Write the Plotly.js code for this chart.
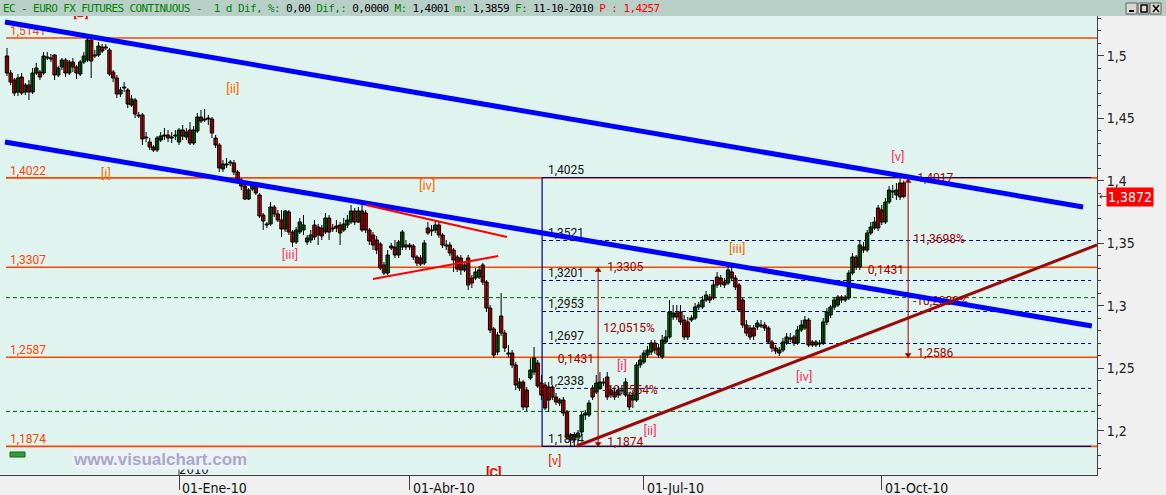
<!DOCTYPE html>
<html><head><meta charset="utf-8">
<script src="https://cdn.plot.ly/plotly-3.0.1.min.js"></script>
<style>
html,body{margin:0;padding:0;background:#f0f0f0;overflow:hidden}
#chart{width:1166px;height:495px}
.gtitle{letter-spacing:-0.6px}
</style></head><body><div id="chart"></div>
<script>
// ---------------- DATA ----------------
const candleOpen = [
1.4997,1.4861,1.4805,1.4709,1.4829,1.4709,1.4765,1.4709,1.4861,1.4869,
1.4861,1.4989,1.4981,1.5005,1.4845,1.4909,1.4965,1.4861,1.4949,1.4909,
1.4853,1.4949,1.4965,1.5125,1.4997,1.5005,1.5069,1.5061,1.5045,1.4869,
1.4821,1.4693,1.4749,1.4725,1.4605,1.4645,1.4525,1.4525,1.4349,1.4309,
1.4269,1.4245,1.4325,1.4365,1.4365,1.4341,1.4357,1.4309,1.4405,1.4349,
1.4405,1.4301,1.4397,1.4509,1.4493,1.4493,1.4493,1.4341,1.4285,1.4093,
1.4133,1.4141,1.4141,1.4069,1.4005,1.3957,1.3853,1.3933,1.3965,1.3885,
1.3725,1.3645,1.3653,1.3789,1.3733,1.3685,1.3613,1.3749,1.3589,1.3509,
1.3589,1.3605,1.3509,1.3525,1.3645,1.3629,1.3621,1.3589,1.3701,1.3621,
1.3637,1.3645,1.3605,1.3645,1.3669,1.3757,1.3669,1.3757,1.3741,1.3605,
1.3565,1.3525,1.3493,1.3325,1.3261,1.3477,1.3469,1.3405,1.3469,1.3485,
1.3485,1.3477,1.3389,1.3381,1.3341,1.3621,1.3605,1.3605,1.3645,1.3565,
1.3485,1.3485,1.3445,1.3389,1.3381,1.3285,1.3381,1.3221,1.3221,1.3229,
1.3325,1.3189,1.2981,1.2813,1.2629,1.2917,1.2781,1.2621,1.2621,1.2525,
1.2341,1.2389,1.2325,1.2421,1.2469,1.2541,1.2381,1.2365,1.2349,1.2349,
1.2269,1.2221,1.2245,1.2149,1.1965,1.1925,1.1949,1.1989,1.2125,1.2125,
1.2341,1.2309,1.2341,1.2381,1.2429,1.2325,1.2309,1.2285,1.2325,1.2285,
1.2285,1.2245,1.2245,1.2525,1.2549,1.2605,1.2629,1.2701,1.2661,1.2589,
1.2709,1.2749,1.2909,1.2941,1.2949,1.2885,1.2869,1.2885,1.2901,1.2989,
1.2989,1.3045,1.3069,1.3061,1.3229,1.3221,1.3189,1.3181,1.3269,1.3221,
1.3165,1.3045,1.2845,1.2821,1.2821,1.2829,1.2845,1.2845,1.2821,1.2709,
1.2661,1.2621,1.2645,1.2701,1.2741,1.2749,1.2701,1.2805,1.2821,1.2885,
1.2709,1.2685,1.2701,1.2701,1.2869,1.2925,1.2989,1.3005,1.3069,1.3045,
1.3061,1.3261,1.3389,1.3309,1.3469,1.3445,1.3581,1.3621,1.3781,1.3765,
1.3669,1.3829,1.3909,1.3885,1.3981,1.3981];
const candleHigh = [
1.5061,1.4885,1.4821,1.4853,1.4861,1.4781,1.4805,1.4901,1.4941,1.4885,
1.5029,1.5029,1.5013,1.5013,1.4917,1.4981,1.4981,1.4965,1.4981,1.4925,
1.4965,1.5029,1.5141,1.5133,1.5045,1.5109,1.5093,1.5093,1.5061,1.4885,
1.4845,1.4749,1.4789,1.4741,1.4685,1.4661,1.4549,1.4541,1.4389,1.4341,
1.4285,1.4357,1.4389,1.4421,1.4405,1.4389,1.4405,1.4421,1.4445,1.4421,
1.4469,1.4437,1.4541,1.4565,1.4573,1.4525,1.4509,1.4365,1.4301,1.4165,
1.4181,1.4165,1.4165,1.4085,1.4021,1.3973,1.3941,1.3989,1.3989,1.3901,
1.3741,1.3669,1.3829,1.3805,1.3765,1.3765,1.3765,1.3765,1.3605,1.3629,
1.3701,1.3725,1.3565,1.3605,1.3685,1.3653,1.3645,1.3741,1.3725,1.3653,
1.3685,1.3669,1.3701,1.3725,1.3805,1.3781,1.3789,1.3805,1.3765,1.3621,
1.3589,1.3557,1.3509,1.3349,1.3445,1.3501,1.3525,1.3525,1.3605,1.3525,
1.3501,1.3493,1.3405,1.3405,1.3525,1.3669,1.3645,1.3685,1.3669,1.3581,
1.3525,1.3509,1.3461,1.3405,1.3405,1.3349,1.3405,1.3245,1.3301,1.3317,
1.3341,1.3205,1.3005,1.2829,1.2789,1.3101,1.2805,1.2685,1.2645,1.2549,
1.2421,1.2405,1.2349,1.2581,1.2669,1.2565,1.2445,1.2389,1.2389,1.2365,
1.2301,1.2261,1.2269,1.2165,1.1981,1.1989,1.2005,1.2149,1.2165,1.2245,
1.2365,1.2445,1.2469,1.2421,1.2469,1.2365,1.2341,1.2357,1.2365,1.2421,
1.2309,1.2325,1.2549,1.2605,1.2645,1.2677,1.2725,1.2725,1.2693,1.2765,
1.2805,1.3045,1.3005,1.3005,1.3005,1.2925,1.2909,1.2925,1.3021,1.3029,
1.3077,1.3117,1.3093,1.3205,1.3269,1.3245,1.3221,1.3317,1.3317,1.3245,
1.3181,1.3061,1.2885,1.2845,1.2845,1.2885,1.2885,1.2869,1.2837,1.2725,
1.2685,1.2669,1.2741,1.2781,1.2781,1.2765,1.2837,1.2885,1.2917,1.2901,
1.2725,1.2725,1.2725,1.2901,1.2981,1.3005,1.3069,1.3085,1.3085,1.3085,
1.3285,1.3421,1.3405,1.3525,1.3509,1.3605,1.3669,1.3709,1.3805,1.3805,
1.3861,1.3957,1.3965,1.3981,1.4017,1.4001];
const candleLow = [
1.4837,1.4765,1.4677,1.4677,1.4685,1.4685,1.4645,1.4693,1.4845,1.4805,
1.4845,1.4965,1.4949,1.4805,1.4829,1.4885,1.4829,1.4845,1.4869,1.4813,
1.4837,1.4933,1.4949,1.4821,1.4981,1.4989,1.5021,1.5045,1.4837,1.4789,
1.4661,1.4669,1.4709,1.4581,1.4589,1.4501,1.4501,1.4285,1.4309,1.4245,
1.4229,1.4229,1.4309,1.4325,1.4309,1.4301,1.4325,1.4285,1.4325,1.4325,
1.4285,1.4285,1.4381,1.4461,1.4469,1.4445,1.4341,1.4261,1.4069,1.4069,
1.4101,1.4117,1.4045,1.3981,1.3925,1.3845,1.3845,1.3917,1.3885,1.3701,
1.3605,1.3621,1.3637,1.3709,1.3669,1.3549,1.3589,1.3565,1.3469,1.3493,
1.3573,1.3565,1.3485,1.3501,1.3525,1.3485,1.3525,1.3573,1.3525,1.3589,
1.3589,1.3485,1.3589,1.3621,1.3653,1.3645,1.3661,1.3589,1.3581,1.3485,
1.3445,1.3413,1.3285,1.3245,1.3245,1.3445,1.3381,1.3381,1.3445,1.3445,
1.3445,1.3365,1.3317,1.3317,1.3325,1.3565,1.3557,1.3581,1.3541,1.3461,
1.3445,1.3397,1.3269,1.3269,1.3245,1.3269,1.3125,1.3141,1.3205,1.3213,
1.3165,1.2949,1.2781,1.2581,1.2605,1.2757,1.2629,1.2581,1.2501,1.2325,
1.2317,1.2165,1.2157,1.2405,1.2445,1.2341,1.2245,1.2165,1.2149,1.2245,
1.2205,1.2197,1.2117,1.1925,1.1874,1.1877,1.1893,1.1965,1.2085,1.2109,
1.2245,1.2293,1.2325,1.2357,1.2245,1.2261,1.2245,1.2261,1.2293,1.2269,
1.2165,1.2181,1.2229,1.2501,1.2533,1.2581,1.2605,1.2613,1.2581,1.2573,
1.2693,1.2733,1.2885,1.2885,1.2845,1.2725,1.2725,1.2869,1.2885,1.2965,
1.2973,1.3029,1.3021,1.3045,1.3141,1.3149,1.3141,1.3165,1.3197,1.3125,
1.2949,1.2821,1.2757,1.2725,1.2725,1.2805,1.2821,1.2797,1.2693,1.2629,
1.2613,1.2597,1.2629,1.2685,1.2709,1.2677,1.2685,1.2789,1.2805,1.2669,
1.2669,1.2669,1.2669,1.2685,1.2845,1.2901,1.2965,1.2989,1.3021,1.3029,
1.3045,1.3245,1.3285,1.3285,1.3421,1.3429,1.3565,1.3605,1.3597,1.3645,
1.3653,1.3813,1.3861,1.3845,1.3845,1.3859];
const candleClose = [
1.4861,1.4789,1.4701,1.4821,1.4701,1.4765,1.4709,1.4861,1.4901,1.4829,
1.4997,1.4981,1.4973,1.4845,1.4901,1.4965,1.4861,1.4949,1.4909,1.4861,
1.4949,1.4997,1.5125,1.4957,1.5005,1.5077,1.5037,1.5069,1.4853,1.4821,
1.4693,1.4725,1.4741,1.4613,1.4653,1.4533,1.4517,1.4333,1.4341,1.4269,
1.4245,1.4341,1.4357,1.4357,1.4341,1.4349,1.4365,1.4405,1.4357,1.4389,
1.4301,1.4405,1.4509,1.4477,1.4485,1.4501,1.4381,1.4285,1.4101,1.4133,
1.4125,1.4149,1.4069,1.4005,1.3957,1.3853,1.3925,1.3965,1.3901,1.3717,
1.3677,1.3653,1.3789,1.3733,1.3685,1.3613,1.3757,1.3589,1.3509,1.3605,
1.3669,1.3645,1.3541,1.3565,1.3549,1.3565,1.3557,1.3701,1.3589,1.3613,
1.3621,1.3581,1.3653,1.3685,1.3757,1.3669,1.3757,1.3605,1.3605,1.3517,
1.3485,1.3445,1.3301,1.3261,1.3405,1.3461,1.3405,1.3509,1.3589,1.3469,
1.3469,1.3389,1.3341,1.3333,1.3501,1.3581,1.3597,1.3645,1.3565,1.3485,
1.3477,1.3421,1.3365,1.3293,1.3285,1.3325,1.3165,1.3181,1.3269,1.3285,
1.3189,1.2981,1.2805,1.2605,1.2765,1.2781,1.2661,1.2613,1.2525,1.2365,
1.2389,1.2189,1.2189,1.2485,1.2581,1.2357,1.2285,1.2181,1.2245,1.2269,
1.2229,1.2245,1.2141,1.1949,1.1925,1.1965,1.1981,1.2125,1.2141,1.2221,
1.2269,1.2381,1.2389,1.2389,1.2269,1.2285,1.2269,1.2325,1.2317,1.2389,
1.2189,1.2285,1.2525,1.2565,1.2621,1.2645,1.2701,1.2645,1.2605,1.2725,
1.2749,1.2949,1.2941,1.2909,1.2869,1.2749,1.2749,1.2901,1.2989,1.3005,
1.3045,1.3085,1.3045,1.3165,1.3165,1.3173,1.3165,1.3285,1.3221,1.3149,
1.2965,1.2845,1.2781,1.2749,1.2757,1.2861,1.2837,1.2821,1.2709,1.2661,
1.2637,1.2645,1.2709,1.2749,1.2733,1.2701,1.2805,1.2845,1.2885,1.2685,
1.2685,1.2709,1.2693,1.2869,1.2949,1.2989,1.3045,1.3069,1.3045,1.3069,
1.3261,1.3389,1.3309,1.3485,1.3445,1.3581,1.3629,1.3669,1.3621,1.3669,
1.3829,1.3925,1.3917,1.3925,1.3869,1.3872];

// month ticks (bar index of the first session of each quarter)
const monthTickIdx  = [47, 110, 174, 239];
const monthTickText = ['01-Ene-10', '01-Abr-10', '01-Jul-10', '01-Oct-10'];
const yearTickIdx = [47];
const yearTickText = ['2010'];

const yTickVals = [1.2, 1.25, 1.3, 1.35, 1.4, 1.45, 1.5];
const yTickText = ['1,2', '1,25', '1,3', '1,35', '1,4', '1,45', '1,5'];

// horizontal support / resistance levels (orange)
const supportLevels = [1.5141, 1.4022, 1.3307, 1.2587, 1.1874];
const supportText   = ['1,5141', '1,4022', '1,3307', '1,2587', '1,1874'];
// green dashed levels
const greenLevels = [1.3064, 1.2154];
// fibonacci retracement
const fibLevels = [1.4025, 1.3521, 1.3201, 1.2953, 1.2697, 1.2338, 1.1874];
const fibText   = ['1,4025', '1,3521', '1,3201', '1,2953', '1,2697', '1,2338', '1,1874'];
const fibStartIdx = 146.2, fibEndIdx = 296.2;

// trend lines [idx, price]
const upperChannelIdx = [-0.55, 294.0], upperChannelPx = [1.5269, 1.3789];
const lowerChannelIdx = [-0.55, 296.4], lowerChannelPx = [1.4309, 1.2837];
const triUpperIdx = [98.1, 136.6], triUpperPx = [1.3805, 1.3549];
const triLowerIdx = [100.0, 134.2], triLowerPx = [1.3213, 1.3397];
const riseLineIdx = [155.7, 297.8], riseLinePx = [1.1877, 1.3485];

// measurements
const measureIdx    = [161.5, 246.2];
const measureTop    = [1.3305, 1.4017];
const measureBottom = [1.1874, 1.2586];
const measureTopText = ['1,3305', '1,4017'];
const measureBotText = ['1,1874', '1,2586'];
const measureDiff   = ['0,1431', '0,1431'];
const measureUpPct  = ['12,0515%', '11,3698%'];
const measureDnPct  = ['-10,7554%', '-10,2080%'];

// Elliott wave labels
const waveText  = ['[B]', '[i]', '[ii]', '[iii]', '[iv]', '[C]', '[v]', '[i]', '[ii]', '[iii]', '[iv]', '[v]'];
const waveIdx   = [20.2, 27.0, 61.7, 77.3, 114.8, 133.0, 149.7, 168.0, 175.7, 199.5, 217.8, 243.4];
const wavePrice = [1.5338, 1.4045, 1.4725, 1.3397, 1.3949, 1.1656, 1.1749, 1.2509, 1.1989, 1.3445, 1.2421, 1.4181];
const waveKind  = ['c', 'o', 'o', 'p', 'o', 'c', 'r', 'p', 'p', 'o', 'p', 'p'];

const lastPrice = 1.3872, lastPriceText = '1,3872';
const headerName = 'EC - EURO FX FUTURES CONTINUOUS -';
const headerVals = ['0,00', '0,0000', '1,4001', '1,3859', '11-10-2010', '1,4257'];

// ---------------- LAYOUT HELPERS ----------------
const W = 1166, H = 495, M = {l: 0, r: 69, t: 16, b: 20};
const plotW = W - M.l - M.r, plotH = H - M.t - M.b;
const pxX = px => (px - M.l) / plotW;
const pxY = py => (H - M.b - py) / plotH;

const ORANGE = '#ff4500', NAVY = '#000080', DKRED = '#990000', DKGREEN = '#006400';
const labelFont = 'Roboto, Arial, sans-serif';
const axisFont = '"Liberation Sans Narrow", "DejaVu Sans Condensed", Roboto, sans-serif';

const shapes = [];
const hline = (y, x0, x1, xref, color, width, dash, layer) => shapes.push({type: 'line', xref: xref, yref: 'y', x0: x0, x1: x1, y0: y, y1: y, line: {color: color, width: width, dash: dash || 'solid'}, layer: layer || 'below'});
const seg = (xs, ys, color, width) => shapes.push({type: 'line', xref: 'x', yref: 'y', x0: xs[0], x1: xs[1], y0: ys[0], y1: ys[1], line: {color: color, width: width}, layer: 'above'});

supportLevels.forEach(v => hline(v, pxX(6), 1, 'paper', ORANGE, 1.6));
greenLevels.forEach(v => hline(v, pxX(6), 1, 'paper', DKGREEN, 1, '4px,3px'));
fibLevels.forEach((v, i) => {
  const solid = (i === 0 || i === fibLevels.length - 1);
  hline(v, fibStartIdx, fibEndIdx, 'x', NAVY, solid ? 1.2 : 1, solid ? 'solid' : '4px,3px');
});
shapes.push({type: 'line', xref: 'x', yref: 'y', x0: fibStartIdx, x1: fibStartIdx, y0: fibLevels[fibLevels.length - 1], y1: fibLevels[0], line: {color: NAVY, width: 1.2}, layer: 'below'});
measureIdx.forEach((x, i) => shapes.push({type: 'line', xref: 'x', yref: 'y', x0: x, x1: x, y0: measureBottom[i], y1: measureTop[i], line: {color: DKRED, width: 1}, layer: 'below'}));

seg(upperChannelIdx, upperChannelPx, '#0000ff', 5);
seg(lowerChannelIdx, lowerChannelPx, '#0000ff', 5);
seg(triUpperIdx, triUpperPx, '#ff0000', 2);
seg(triLowerIdx, triLowerPx, '#ff0000', 2);
seg(riseLineIdx, riseLinePx, '#9b0a0a', 3);

// year tick inside plot
yearTickIdx.forEach(x => shapes.push({type: 'line', xref: 'x', yref: 'paper', x0: x, x1: x, y0: 0, y1: pxY(462), line: {color: '#333', width: 1}, layer: 'above'}));

// title bar + window buttons + small green marker
shapes.push({type: 'rect', xref: 'paper', yref: 'paper', x0: pxX(0), x1: pxX(W), y0: pxY(M.t), y1: pxY(0), fillcolor: '#b8cfc8', line: {width: 0}, layer: 'above'});
[1126, 1138, 1150].forEach(bx => shapes.push({type: 'rect', xref: 'paper', yref: 'paper', x0: pxX(bx), x1: pxX(bx + 11), y0: pxY(14), y1: pxY(3), fillcolor: '#d8d8d0', line: {color: '#606060', width: 1}, layer: 'above'}));
shapes.push({type: 'line', xref: 'paper', yref: 'paper', x0: pxX(1129), x1: pxX(1134), y0: pxY(11), y1: pxY(11), line: {color: '#000', width: 2}, layer: 'above'});
shapes.push({type: 'rect', xref: 'paper', yref: 'paper', x0: pxX(1141), x1: pxX(1147), y0: pxY(12), y1: pxY(5), line: {color: '#000', width: 1.5}, layer: 'above'});
shapes.push({type: 'line', xref: 'paper', yref: 'paper', x0: pxX(1153), x1: pxX(1159), y0: pxY(12), y1: pxY(5), line: {color: '#000', width: 1.5}, layer: 'above'});
shapes.push({type: 'line', xref: 'paper', yref: 'paper', x0: pxX(1153), x1: pxX(1159), y0: pxY(5), y1: pxY(12), line: {color: '#000', width: 1.5}, layer: 'above'});
shapes.push({type: 'rect', xref: 'paper', yref: 'paper', x0: pxX(10), x1: pxX(25), y0: pxY(457), y1: pxY(452), fillcolor: '#3c9a3c', line: {color: '#1e5e1e', width: 1}, layer: 'above'});

// ---------------- TRACES ----------------
const idx = candleOpen.map((_, i) => i);
const textTrace = (x, y, text, color, size, family, pos) => ({
  type: 'scatter', mode: 'text', x: x, y: y, text: text, textposition: pos || 'middle right',
  textfont: {family: family || labelFont, size: size || 12, color: color}, hoverinfo: 'skip', showlegend: false, cliponaxis: true
});

const traces = [];
traces.push(textTrace(supportLevels.map(() => 0.8), supportLevels.map(v => v + 0.005), supportText, ORANGE));
traces.push(textTrace(fibLevels.map(() => fibStartIdx + 1.6), fibLevels.map(v => v + 0.0055), fibText, '#101010'));
const mx = [], my = [], mt = [];
measureIdx.forEach((x, i) => {
  const span = measureTop[i] - measureBottom[i];
  mx.push(x + 2.5); my.push(measureTop[i]); mt.push(measureTopText[i]);
  mx.push(x + 1.4); my.push(measureTop[i] - 0.344 * span); mt.push(measureUpPct[i]);
  mx.push(x - 11.0); my.push(measureTop[i] - 0.517 * span); mt.push(measureDiff[i]);
  mx.push(x + 1.3); my.push(measureTop[i] - 0.688 * span); mt.push(measureDnPct[i]);
  mx.push(x + 2.5); my.push(measureBottom[i] + 0.0027); mt.push(measureBotText[i]);
});
traces.push(textTrace(mx, my, mt, '#a00000'));
const waveColors = {o: '#ff6a00', p: '#ff3366', c: '#ff0000', r: '#ff1a1a'};
traces.push(textTrace(waveIdx, wavePrice, waveText.map((t, i) => waveKind[i] === 'c' ? '<b>' + t + '</b>' : t),
  waveKind.map(k => waveColors[k]), 13, labelFont, 'middle center'));
traces.push(textTrace(yearTickIdx, yearTickIdx.map(() => 1.1680), yearTickText, '#111', 13, axisFont));

// candles: wicks (line segments) + bodies (bars), built from the OHLC arrays
const wickX = [], wickY = [];
idx.forEach(i => { wickX.push(i, i, null); wickY.push(candleLow[i], candleHigh[i], null); });
traces.push({type: 'scatter', mode: 'lines', x: wickX, y: wickY, line: {color: '#000', width: 1}, hoverinfo: 'skip', showlegend: false, connectgaps: false});
const minBody = 0.00025;
traces.push({
  type: 'bar', x: idx,
  base: idx.map(i => Math.min(candleOpen[i], candleClose[i])),
  y: idx.map(i => Math.max(Math.abs(candleClose[i] - candleOpen[i]), minBody)),
  width: 0.92,
  marker: {color: idx.map(i => candleClose[i] >= candleOpen[i] ? '#008000' : '#ff0000'), line: {color: '#000', width: 1}},
  hoverinfo: 'skip', showlegend: false
});

const ax = [], ay = [], as = [];
measureIdx.forEach((x, i) => {
  ax.push(x, x); ay.push(measureTop[i] - 0.0022, measureBottom[i] + 0.0022); as.push('triangle-up', 'triangle-down');
});
traces.push({type: 'scatter', mode: 'markers', x: ax, y: ay, marker: {symbol: as, size: 6, color: DKRED}, hoverinfo: 'skip', showlegend: false});

// ---------------- ANNOTATIONS ----------------
const annotations = [];
monthTickIdx.forEach((x, i) => annotations.push({xref: 'x', yref: 'paper', x: x, y: 0, xanchor: 'left', yanchor: 'top', xshift: 1, yshift: -3,
  text: monthTickText[i], showarrow: false, font: {family: axisFont, size: 14, color: '#111'}}));
annotations.push({xref: 'paper', yref: 'y', x: 1, y: lastPrice, xanchor: 'left', xshift: 9, text: lastPriceText, showarrow: false,
  bgcolor: '#ff0000', borderpad: 1, font: {family: axisFont, size: 14, color: '#ffffff'}});
annotations.push({xref: 'paper', yref: 'y', x: 1, y: lastPrice, xanchor: 'left', xshift: 0, text: '←', showarrow: false,
  font: {family: 'DejaVu Sans', size: 10, color: '#333'}});
annotations.push({xref: 'paper', yref: 'paper', x: pxX(160), y: pxY(459), xanchor: 'center', yanchor: 'middle', text: 'www.visualchart.com',
  showarrow: false, bgcolor: '#eef2f6', borderpad: 0, font: {family: 'Liberation Sans, Arial, sans-serif', size: 17, color: '#a6a8cc', weight: 'bold'}});

const G = s => '<span style="color:#000000">' + s + '</span>';
const titleText = headerName + '&nbsp;&nbsp;1 d Dif, %: ' + G(headerVals[0]) + ' Dif,: ' + G(headerVals[1]) +
  ' M: ' + G(headerVals[2]) + ' m: ' + G(headerVals[3]) + ' F: ' + G(headerVals[4]) +
  ' <span style="color:#ff0000">P : ' + headerVals[5] + '</span>';

const layout = {
  width: W, height: H, margin: M,
  paper_bgcolor: '#f0f0f0', plot_bgcolor: '#dff4ee',
  title: {text: titleText, x: 3 / W, xref: 'container', xanchor: 'left', y: 1 - 8 / H, yref: 'container', yanchor: 'middle',
    font: {family: '"DejaVu Sans Mono", monospace', size: 11, color: '#008000'}, pad: {t: 0, b: 0, l: 0, r: 0}},
  showlegend: false, bargap: 0,
  xaxis: {type: 'linear', range: [-1.91, 297.8], showgrid: false, zeroline: false,
    tickmode: 'array', tickvals: monthTickIdx, ticks: 'outside', ticklen: 14, tickcolor: '#404040', showticklabels: false,
    showline: true, linecolor: '#404040', linewidth: 1, fixedrange: true},
  yaxis: {side: 'right', range: [1.1645, 1.5317], showgrid: false, zeroline: false,
    tickmode: 'array', tickvals: yTickVals, ticktext: yTickText, ticks: 'outside', ticklen: 6, tickcolor: '#404040',
    tickfont: {family: axisFont, size: 14, color: '#222'},
    minor: {tickmode: 'linear', tick0: 1.2, dtick: 0.01, ticks: 'outside', ticklen: 3, tickcolor: '#404040', showgrid: false},
    showline: true, linecolor: '#404040', linewidth: 1, fixedrange: true},
  shapes: shapes, annotations: annotations
};

Plotly.newPlot('chart', traces, layout, {staticPlot: true, displayModeBar: false});
</script></body></html>
